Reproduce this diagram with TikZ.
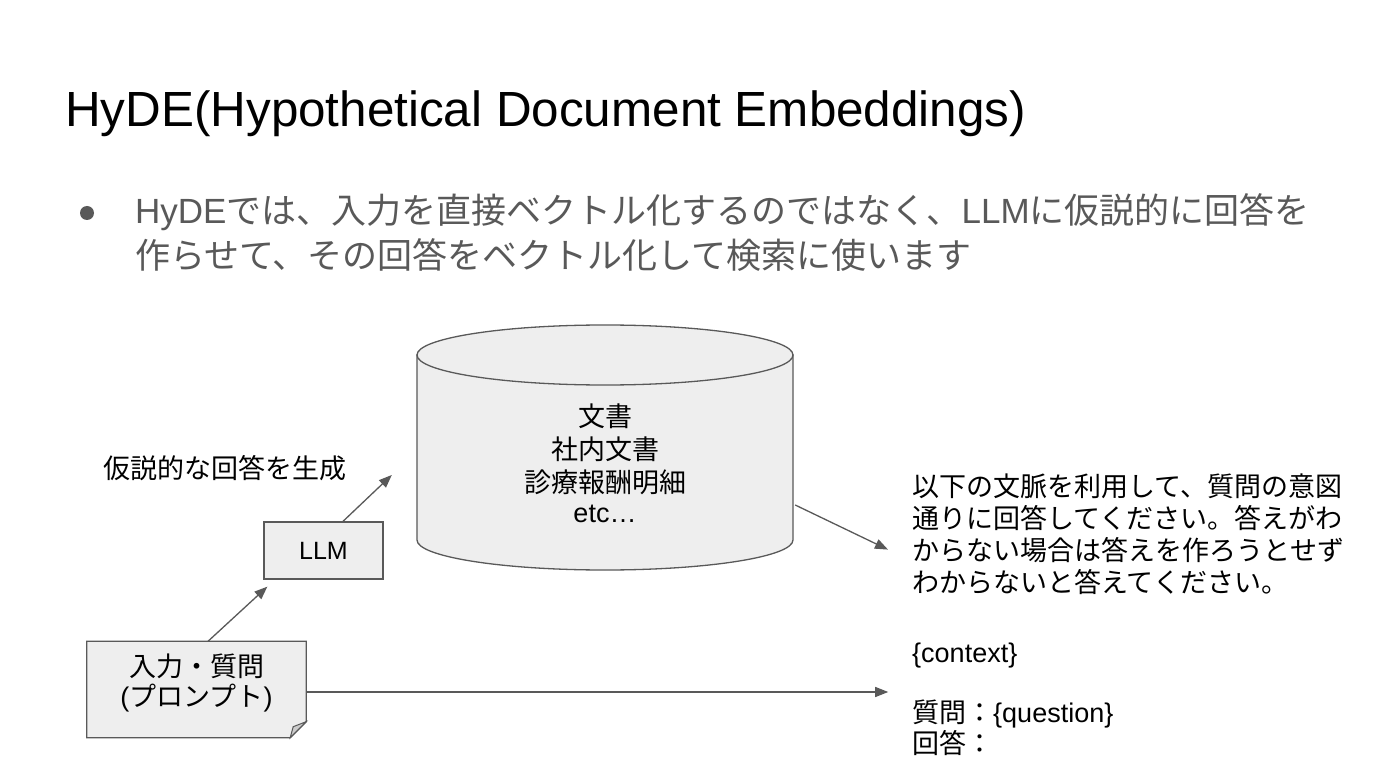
\documentclass[tikz,border=0pt]{standalone}
\usepackage{fontspec}
\setmainfont{Liberation Sans}
\newfontfamily\jp{Noto Sans CJK JP}
\usetikzlibrary{arrows.meta,calc}
\definecolor{ink}{HTML}{595959}
\definecolor{boxfill}{HTML}{EEEEEE}
\definecolor{foldfill}{HTML}{CCCCCC}
\definecolor{txtgray}{HTML}{595959}
\begin{document}
\begin{tikzpicture}[x=1pt,y=-1pt,
  txt/.style={inner sep=0, anchor=base west},
  ctxt/.style={inner sep=0, anchor=base},
  fsmall/.style={font=\fontsize{27}{32}\selectfont},
  arr/.style={draw=ink, line width=1.3pt, -{Triangle[length=13pt,width=10pt]}},
  shapebox/.style={draw=ink, fill=boxfill, line width=1.3pt}]
\fill[white] (0,0) rectangle (1400,783);
\useasboundingbox (0,0) rectangle (1400,783);

% title and bullet
\node[txt, font=\fontsize{49.4}{58}\selectfont] (title) at (65,127) {HyDE(Hypothetical Document Embeddings)};
\node[circle, fill=txtgray, inner sep=0, minimum size=14] (bullet) at (87,213) {};
\node[txt, text=txtgray, font=\fontsize{35}{45}\selectfont] (bl1) at (135,224) {HyDE{\jp では、入力を直接ベクトル化するのではなく、}LLM{\jp に仮説的に回答を}};
\node[txt, text=txtgray, font=\fontsize{35}{45}\selectfont] (bl2) at (135,269) {{\jp 作らせて、その回答をベクトル化して検索に使います}};

% label
\node[txt, fsmall] (gen) at (103,478) {{\jp 仮説的な回答を生成}};

% LLM box
\node[shapebox, minimum width=119, minimum height=57, inner sep=0, font=\fontsize{25}{30}\selectfont] (llm) at (323.5,550.5) {LLM};

% document (prompt) shape
\node[minimum width=219, minimum height=96, inner sep=0] (doc) at (196.5,689.5) {};
\filldraw[shapebox] (doc.north west) -- (doc.north east) -- ($(doc.south east)+(0,-16)$) -- ($(doc.south east)+(-16,0)$) -- (doc.south west) -- cycle;
\filldraw[draw=ink, fill=foldfill, line width=1pt] ($(doc.south east)+(0,-16)$) -- ($(doc.south east)+(-16,0)$) -- ($(doc.south east)+(-13,-11)$) -- cycle;
\node[ctxt, fsmall] (doc1) at (196.5,676) {{\jp 入力・質問}};
\node[ctxt, fsmall] (doc2) at (196.5,706) {({\jp プロンプト})};

% cylinder
\node[minimum width=376, minimum height=245, inner sep=0] (db) at (605,447.5) {};
\filldraw[shapebox] (417,355) -- (417,540) arc[start angle=180, end angle=0, x radius=188, y radius=30] -- (793,355) -- cycle;
\filldraw[shapebox] (605,355) ellipse [x radius=188, y radius=30];
\node[ctxt, fsmall] (db1) at (605,426) {{\jp 文書}};
\node[ctxt, fsmall] (db2) at (605,459) {{\jp 社内文書}};
\node[ctxt, fsmall] (db3) at (605,492) {{\jp 診療報酬明細}};
\node[ctxt, fsmall] (db4) at (605,522) {etc…};

% prompt text
\node[txt, fsmall] (p1) at (912,496) {{\jp 以下の文脈を利用して、質問の意図}};
\node[txt, fsmall] (p2) at (912,528) {{\jp 通りに回答してください。答えがわ}};
\node[txt, fsmall] (p3) at (912,560) {{\jp からない場合は答えを作ろうとせず}};
\node[txt, fsmall] (p4) at (912,592) {{\jp わからないと答えてください。}};
\node[txt, fsmall] (p5) at (912,662) {\{context\}};
\node[txt, fsmall] (p6) at (912,722) {{\jp 質問：}\{question\}};
\node[txt, fsmall] (p7) at (912,753) {{\jp 回答：}};

% connectors
\coordinate (tipA) at ($(llm.south west)+(4,7)$);
\coordinate (tipB) at ($(db.west)+(-25,27.5)$);
\coordinate (tipC) at ($(p3.west)+(-24,0)$);
\coordinate (tipD) at ($(doc.east)+(582,2.5)$);
\draw[arr] ($(doc.north)+(11.5,0)$) -- (tipA);
\draw[arr] ($(llm.north)+(19.5,0)$) -- (tipB);
\draw[arr] ($(db.east)+(2,57.5)$) -- (tipC);
\draw[arr] ($(doc.east)+(0,2.5)$) -- (tipD);
\end{tikzpicture}
\end{document}
